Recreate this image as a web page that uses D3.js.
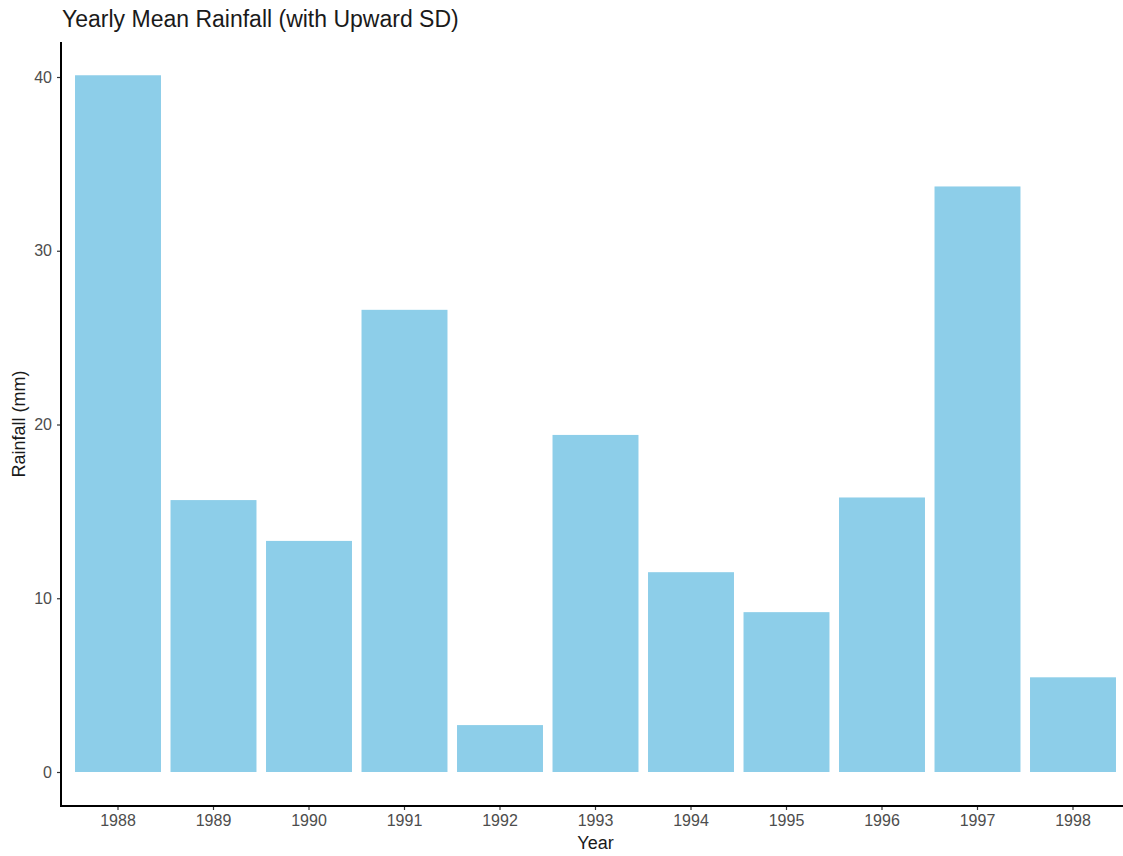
<!DOCTYPE html>
<html><head><meta charset="utf-8">
<script src="https://cdn.jsdelivr.net/npm/d3@7"></script>
<style>body{margin:0;background:#fff;} svg{display:block;font-family:"Liberation Sans",Arial,sans-serif;}</style>
</head><body><svg id="c" width="1123" height="856"></svg>
<script>
const years = ["1988","1989","1990","1991","1992","1993","1994","1995","1996","1997","1998"];
const rainfall = [40.1, 15.65, 13.3, 26.6, 2.7, 19.4, 11.5, 9.2, 15.8, 33.7, 5.45];
const yTicks = [0, 10, 20, 30, 40];

const svg = d3.select("#c");
const panel = {left: 61, right: 1130, top: 42, bottom: 806};

const x = d3.scaleBand().domain(years).range([70.25, 1120.75]).paddingInner(0.1).paddingOuter(0.05);
const y = d3.scaleLinear().domain([0, 40]).range([772, 77]);

svg.append("g").selectAll("rect").data(years).join("rect")
  .attr("x", d => x(d)).attr("width", x.bandwidth())
  .attr("y", (d,i) => y(rainfall[i])).attr("height", (d,i) => y(0) - y(rainfall[i]))
  .attr("fill", "#8dcee9");

// y axis
const ya = svg.append("g").attr("transform", `translate(${panel.left},0)`)
  .call(d3.axisLeft(y).tickValues(yTicks).tickSize(4).tickPadding(5).tickFormat(d3.format("d")));
ya.select(".domain").remove();
ya.selectAll(".tick line").attr("stroke", "#333").attr("stroke-width", 1.2);
ya.selectAll("text").attr("fill", "#4d4d4d").style("font-size", "16px");
svg.append("line").attr("x1", panel.left).attr("x2", panel.left).attr("y1", panel.top).attr("y2", panel.bottom + 1)
  .attr("stroke", "#000").attr("stroke-width", 2);

// x axis
const xa = svg.append("g").attr("transform", `translate(0,${panel.bottom})`)
  .call(d3.axisBottom(x).tickSize(4).tickPadding(5));
xa.select(".domain").remove();
xa.selectAll(".tick line").attr("stroke", "#333").attr("stroke-width", 1.2);
xa.selectAll("text").attr("fill", "#4d4d4d").style("font-size", "16px");
svg.append("line").attr("x1", panel.left - 1).attr("x2", panel.right).attr("y1", panel.bottom).attr("y2", panel.bottom)
  .attr("stroke", "#000").attr("stroke-width", 2);

// titles
svg.append("text").attr("x", 62).attr("y", 27).attr("fill", "#1a1a1a").style("font-size", "23px")
  .text("Yearly Mean Rainfall (with Upward SD)");
svg.append("text").attr("x", (panel.left + panel.right) / 2).attr("y", 849).attr("text-anchor", "middle")
  .attr("fill", "#1a1a1a").style("font-size", "18px").text("Year");
svg.append("text").attr("transform", `translate(25,${(panel.top + panel.bottom) / 2}) rotate(-90)`)
  .attr("text-anchor", "middle").attr("fill", "#1a1a1a").style("font-size", "18px").text("Rainfall (mm)");
</script></body></html>
